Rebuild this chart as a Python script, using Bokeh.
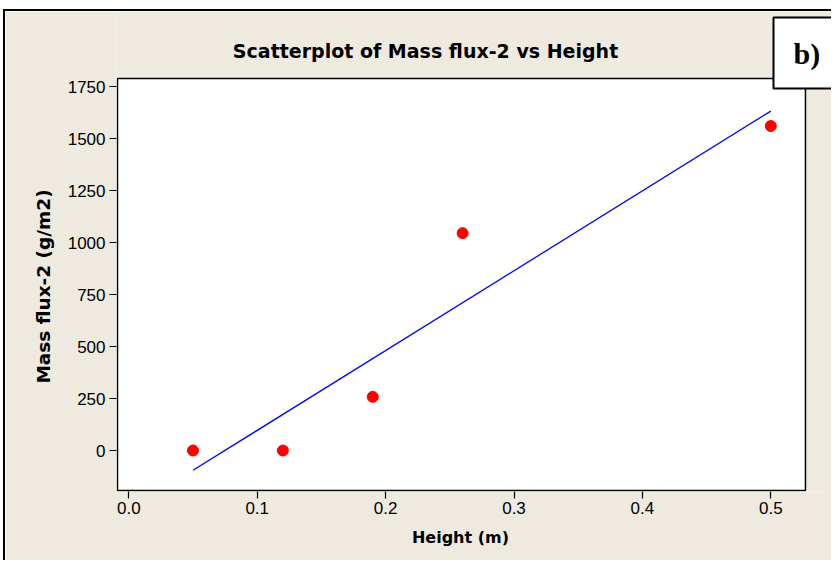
import math
import numpy as np
from bokeh.plotting import figure
from bokeh.models import Range1d, FixedTicker, Label, NumeralTickFormatter
from bokeh.embed import file_html
from bokeh.resources import INLINE

# data
height_m = [0.05, 0.12, 0.19, 0.26, 0.50]
mass_flux = [0, 0, 258, 1045, 1560]
x_ticks = [0.0, 0.1, 0.2, 0.3, 0.4, 0.5]
y_ticks = [0, 250, 500, 750, 1000, 1250, 1500, 1750]

# visible data window of the plot box (Minitab-style data region)
X_LO, X_HI = -0.0088, 0.5270
Y_LO, Y_HI = -192.3, 1788.5

BG = "#EEEAE0"
TICK_FONT = "Liberation Sans"
LABEL_FONT = "DejaVu Sans"

p = figure(width=828, height=551, output_backend="svg", toolbar_location=None,
           x_range=Range1d(-0.00958, 0.54883), y_range=Range1d(-197.1, 2110.6),
           min_border_left=111, min_border_right=0, min_border_top=0, min_border_bottom=71,
           background_fill_color=BG, border_fill_color=BG)
p.styles = {"margin-left": "3px", "margin-top": "9px",
            "border-top": "2px solid black", "border-left": "2px solid black"}

p.grid.visible = False
p.outline_line_color = None

for ax in (p.xaxis[0], p.yaxis[0]):
    ax.axis_line_color = None
    ax.major_tick_in = 0
    ax.major_tick_out = 7
    ax.major_tick_line_color = "black"
    ax.major_tick_line_width = 1.2
    ax.minor_tick_line_color = None
    ax.major_label_text_font = TICK_FONT
    ax.major_label_text_font_size = "17px"
    ax.major_label_text_color = "black"

p.xaxis.ticker = FixedTicker(ticks=x_ticks)
p.xaxis.formatter = NumeralTickFormatter(format="0.0")
p.xaxis.major_label_standoff = 3

p.yaxis.ticker = FixedTicker(ticks=y_ticks)
p.yaxis.major_label_standoff = 4

# white data region with black border
p.quad(left=[X_LO], right=[X_HI], bottom=[Y_LO], top=[Y_HI],
       fill_color="white", line_color="black", line_width=1.5)

# least-squares fit line from the data
slope, intercept = np.polyfit(height_m, mass_flux, 1)
fx = [min(height_m), max(height_m)]
fy = [intercept + slope * v for v in fx]
p.line(fx, fy, line_color="blue", line_width=1.3)

p.scatter(height_m, mass_flux, size=11, fill_color="red", line_color="red")

title = Label(x=0.2311, y=1923, x_units="data", y_units="data",
              text="Scatterplot of Mass flux-2 vs Height",
              text_align="center", text_baseline="middle",
              text_font=LABEL_FONT, text_font_style="bold", text_font_size="19px",
              text_color="black")
p.add_layout(title)

xlab = Label(x=0.2583, y=-418.3, x_units="data", y_units="data",
             text="Height (m)", text_align="center", text_baseline="middle",
             text_font=LABEL_FONT, text_font_style="bold", text_font_size="16px",
             text_color="black")
p.add_layout(xlab, "below")

ylab = Label(x=-0.0664, y=788.5, x_units="data", y_units="data",
             text="Mass flux-2 (g/m2)", angle=math.pi / 2,
             text_align="center", text_baseline="middle",
             text_font=LABEL_FONT, text_font_style="bold", text_font_size="18.5px",
             text_color="black")
p.add_layout(ylab, "left")

tag = Label(x=0.5021, y=2081.7, x_units="data", y_units="data", text="b)",
            anchor="top_left", text_font="Liberation Serif", text_font_style="bold",
            text_font_size="30px", text_color="black",
            background_fill_color="white", border_line_color="black", border_line_width=2,
            padding=dict(left=20, right=60, top=19, bottom=19))
p.add_layout(tag)

open("out.html", "w").write(file_html(p, INLINE))
